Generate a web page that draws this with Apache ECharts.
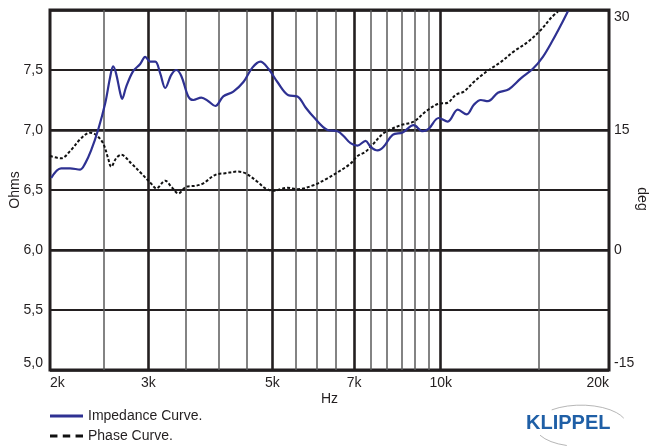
<!DOCTYPE html>
<html>
<head>
<meta charset="utf-8">
<style>
  html, body { margin: 0; padding: 0; background: #fff; }
  #chart { width: 649px; height: 446px; }
</style>
<script src="https://cdn.jsdelivr.net/npm/echarts@6/dist/echarts.min.js"></script>
</head>
<body>
<div id="chart"></div>
<script>
// Impedance magnitude (Ohms) against frequency (Hz)
const impFreq = [2010, 2093, 2172, 2264, 2311, 2369, 2438, 2510, 2562, 2594, 2626, 2670, 2692, 2737, 2817, 2900, 2961, 3022, 3086, 3150,
  3215, 3296, 3365, 3435, 3535, 3609, 3730, 3840, 3952, 4083, 4256, 4436, 4603, 4757, 4918, 5103, 5340, 5543, 5728, 5920,
  6273, 6537, 6702, 6898, 7100, 7338, 7491, 7710, 7904, 8203, 8548, 8945, 9284, 9515, 9916, 10293, 10727, 11132, 11460, 11795,
  12142, 12653, 13240, 13910, 14616, 15232, 15872, 16407, 16887];
const impOhms = [6.60, 6.68, 6.68, 6.67, 6.72, 6.83, 7.00, 7.22, 7.44, 7.53, 7.47, 7.31, 7.26, 7.36, 7.49, 7.55, 7.61, 7.57, 7.57, 7.47,
  7.35, 7.46, 7.50, 7.45, 7.28, 7.25, 7.27, 7.24, 7.20, 7.28, 7.32, 7.40, 7.52, 7.57, 7.51, 7.40, 7.29, 7.28, 7.19, 7.11,
  7.00, 6.99, 6.95, 6.89, 6.87, 6.91, 6.86, 6.83, 6.86, 6.96, 6.98, 7.04, 6.99, 7.01, 7.10, 7.07, 7.17, 7.13, 7.21, 7.25,
  7.24, 7.31, 7.34, 7.43, 7.51, 7.61, 7.75, 7.875, 7.99];

// Phase (deg) against frequency (Hz)
const phFreq = [2000, 2093, 2181, 2273, 2359, 2418, 2489, 2541, 2573, 2626, 2681, 2794, 2912, 3034, 3098, 3215, 3296, 3393, 3506, 3654,
  3761, 3952, 4117, 4326, 4472, 4699, 4857, 5019, 5318, 5543, 5920, 6273, 6537, 6898, 7100, 7338, 7585, 7904, 8479, 8945,
  9398, 9875, 10293, 10638, 10994, 11460, 11795, 12191, 12810, 13504, 14313, 15103, 15745, 16206];
const phDeg = [11.75, 11.46, 12.5, 13.96, 14.67, 14.38, 13.34, 11.46, 10.4, 11.46, 11.9, 10.84, 9.59, 8.3, 7.7, 8.66, 7.91, 7.08, 7.9, 8.04,
  8.33, 9.4, 9.59, 9.8, 9.6, 8.54, 7.71, 7.4, 7.79, 7.6, 8.1, 8.96, 9.7, 10.8, 11.75, 12.29, 13.3, 14.6, 15.6, 16.04,
  17.3, 18.25, 18.41, 19.4, 19.79, 21.0, 21.75, 22.5, 23.5, 24.8, 26.0, 27.5, 29.0, 29.8];

// Frequency axis: labelled ticks and the lighter intermediate grid lines
const xTickHz = [2000, 3000, 5000, 7000, 10000, 20000];
const xMajorGridHz = [3000, 5000, 7000, 10000];
const xMinorGridHz = [2500, 3500, 4000, 4500, 5500, 6000, 6500, 7500, 8000, 8500, 9000, 9500, 15000];

const seriesNames = ['Impedance Curve.', 'Phase Curve.'];

const FONT = '"Liberation Sans", Arial, sans-serif';
const TEXT = '#231f20';
const lg = Math.log10;

const chart = echarts.init(document.getElementById('chart'), null, { renderer: 'canvas' });

chart.setOption({
  animation: false,
  backgroundColor: '#ffffff',
  textStyle: { fontFamily: FONT, color: TEXT },
  grid: {
    left: 50, right: 40, top: 10, bottom: 76,
    containLabel: false,
    outerBoundsMode: 'none',
    show: true, borderColor: '#231f20', borderWidth: 3, backgroundColor: 'transparent'
  },
  legend: {
    orient: 'vertical',
    left: 50, top: 409,
    padding: 0,
    itemWidth: 33, itemHeight: 14, itemGap: 6,
    textStyle: { fontFamily: FONT, fontSize: 14, color: TEXT },
    data: [
      { name: seriesNames[0], icon: 'path://M0,0L33,0L33,3L0,3Z', itemStyle: { color: '#2e3192' } },
      { name: seriesNames[1], icon: 'path://M0,0L7,0L7,3L0,3Z M12,0L19,0L19,3L12,3Z M24,0L31,0L31,3L24,3Z', itemStyle: { color: '#111' } }
    ]
  },
  xAxis: [
    {
      type: 'value',
      min: lg(2000), max: lg(20000),
      name: 'Hz', nameLocation: 'middle', nameGap: 22, nameMoveOverlap: false,
      nameTextStyle: { fontFamily: FONT, fontSize: 14, color: TEXT },
      axisLine: { show: false },
      axisTick: { show: false, customValues: xMajorGridHz.map(lg) },
      axisLabel: {
        customValues: xTickHz.map(lg),
        margin: 6,
        fontFamily: FONT, fontSize: 14, color: TEXT,
        alignMinLabel: 'left', alignMaxLabel: 'right',
        formatter: v => Math.round(Math.pow(10, v) / 1000) + 'k'
      },
      splitLine: { show: true, lineStyle: { color: '#231f20', width: 2.6 } }
    },
    {
      type: 'value',
      min: lg(2000), max: lg(20000),
      axisLine: { show: false },
      axisTick: { show: false, customValues: xMinorGridHz.map(lg) },
      axisLabel: { show: false },
      splitLine: { show: true, lineStyle: { color: '#5a5a5a', width: 1.5 } }
    }
  ],
  yAxis: [
    {
      type: 'value',
      min: 5, max: 8, interval: 0.5,
      position: 'left',
      name: 'Ohms', nameLocation: 'middle', nameGap: 28, nameRotate: 90, nameMoveOverlap: false,
      nameTextStyle: { fontFamily: FONT, fontSize: 14, color: TEXT },
      axisLine: { show: false },
      axisTick: { show: false },
      axisLabel: {
        margin: 7,
        fontFamily: FONT, fontSize: 14, color: TEXT,
        verticalAlignMinLabel: 'bottom',
        formatter: v => (v >= 8 ? '' : v.toFixed(1).replace('.', ','))
      },
      splitLine: { show: true, lineStyle: { color: '#231f20', width: 2 } }
    },
    {
      type: 'value',
      min: -15, max: 30, interval: 15,
      position: 'right',
      name: 'deg', nameLocation: 'middle', nameGap: 26, nameRotate: -90, nameMoveOverlap: false,
      nameTextStyle: { fontFamily: FONT, fontSize: 14, color: TEXT, padding: [0, 0, 0, 18] },
      axisLine: { show: false },
      axisTick: { show: false },
      axisLabel: {
        margin: 5,
        fontFamily: FONT, fontSize: 14, color: TEXT,
        verticalAlignMinLabel: 'bottom', verticalAlignMaxLabel: 'top'
      },
      splitLine: { show: true, lineStyle: { color: '#231f20', width: 2.6 } }
    }
  ],
  series: [
    {
      name: seriesNames[0],
      type: 'line',
      xAxisIndex: 0, yAxisIndex: 0,
      symbol: 'none',
      smooth: 0.35,
      z: 4,
      lineStyle: { color: '#2e3192', width: 2.2 },
      itemStyle: { color: '#2e3192' },
      data: impFreq.map((f, i) => [lg(f), impOhms[i]])
    },
    {
      name: seriesNames[1],
      type: 'line',
      xAxisIndex: 0, yAxisIndex: 1,
      symbol: 'none',
      smooth: 0.35,
      z: 3,
      lineStyle: { color: '#111111', width: 2, type: [3, 2] },
      itemStyle: { color: '#111111' },
      data: phFreq.map((f, i) => [lg(f), phDeg[i]])
    }
  ],
  graphic: [
    {
      type: 'group',
      left: 526, top: 404,
      children: [
        {
          type: 'arc',
          shape: { cx: 57, cy: 26, r: 46, startAngle: -Math.PI * 0.72, endAngle: -Math.PI * 0.12 },
          scaleY: 0.45, originX: 57, originY: 26,
          style: { stroke: '#9a9a9a', lineWidth: 1, fill: null }
        },
        {
          type: 'arc',
          shape: { cx: 57, cy: 26, r: 46, startAngle: Math.PI * 0.6, endAngle: Math.PI * 0.85 },
          scaleY: 0.45, originX: 57, originY: 26,
          style: { stroke: '#9a9a9a', lineWidth: 1, fill: null }
        },
        {
          type: 'text',
          x: 2, y: 14,
          style: {
            text: 'KLIPPEL',
            font: 'bold 20px ' + FONT,
            fill: '#1f5fa6'
          }
        }
      ]
    }
  ]
});
</script>
</body>
</html>
